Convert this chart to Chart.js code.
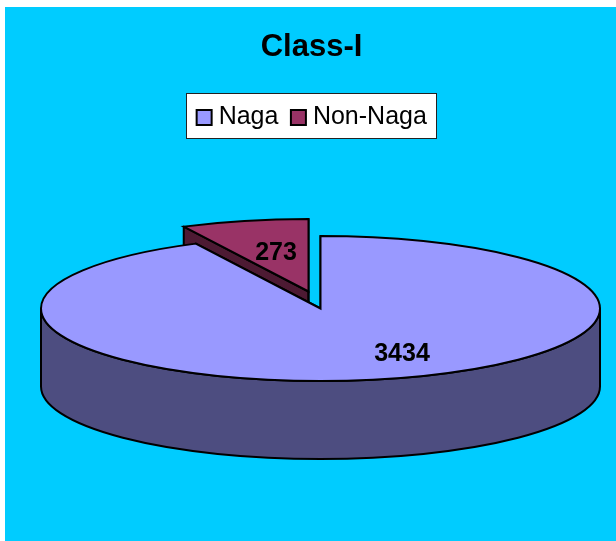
<!DOCTYPE html>
<html><head><meta charset="utf-8">
<style>html,body{margin:0;padding:0;background:#fff}#w{width:616px;height:541px;position:relative}</style>
<script src="https://cdn.jsdelivr.net/npm/chart.js@4/dist/chart.umd.js"></script>
</head><body><div id="w"><canvas id="c" width="616" height="541"></canvas></div>
<script>
const titleText = 'Class-I';
const categories = ['Naga', 'Non-Naga'];
const values = [3434, 273];
const topColors = ['#9999FF', '#993366'];
const sideColors = ['#4D4D80', '#4D1A33'];

const view = {
  bg: {x: 5, y: 7, color: '#00CCFF'},
  cx: 320.5, cy: 308.5, rx: 279.5, ry: 72.5, depth: 78,
  explode: [{x: 0, y: 0}, {x: -12, y: -17}],
  labels: [{x: 402, y: 354}, {x: 276, y: 253}],
  legendPad: 10,
  legendH: 45,
  legendRightTrim: 1
};
const FONT = '"Liberation Sans", Arial, sans-serif';

function mapPt(a, ang, r, i) {
  return {
    x: view.cx + view.explode[i].x + Math.cos(ang) * r * view.rx / a.outerRadius,
    y: view.cy + view.explode[i].y + Math.sin(ang) * r * view.ry / a.outerRadius
  };
}
function ellipse(ctx, i, from, to, dy, ccw) {
  ctx.ellipse(view.cx + view.explode[i].x, view.cy + view.explode[i].y + dy, view.rx, view.ry, 0, from, to, !!ccw);
}
function drawSide(ctx, a, i) {
  const apex = {x: view.cx + view.explode[i].x, y: view.cy + view.explode[i].y};
  ctx.fillStyle = sideColors[i];
  ctx.strokeStyle = '#000';
  ctx.lineWidth = 2;
  ctx.lineJoin = 'round';
  [a.startAngle, a.endAngle].forEach(ang => {
    const p = mapPt(a, ang, a.outerRadius, i);
    ctx.beginPath();
    ctx.moveTo(apex.x, apex.y);
    ctx.lineTo(p.x, p.y);
    ctx.lineTo(p.x, p.y + view.depth);
    ctx.lineTo(apex.x, apex.y + view.depth);
    ctx.closePath();
    ctx.fill(); ctx.stroke();
  });
  const norm = v => ((v % (2 * Math.PI)) + 2 * Math.PI) % (2 * Math.PI);
  const s = norm(a.startAngle), e = s + (a.endAngle - a.startAngle);
  for (const [lo, hi] of [[0, Math.PI], [2 * Math.PI, 3 * Math.PI]]) {
    const f = Math.max(s, lo), t = Math.min(e, hi);
    if (t > f) {
      ctx.beginPath();
      ellipse(ctx, i, f, t, 0);
      ellipse(ctx, i, t, f, view.depth, true);
      ctx.closePath();
      ctx.fill(); ctx.stroke();
    }
  }
}
function drawTop(chart, ctx, a, i) {
  ctx.save();
  ctx.translate(view.cx + view.explode[i].x, view.cy + view.explode[i].y);
  ctx.scale(view.rx / a.outerRadius, view.ry / a.outerRadius);
  ctx.translate(-a.x, -a.y);
  a.draw(ctx);
  ctx.restore();
  const apex = {x: view.cx + view.explode[i].x, y: view.cy + view.explode[i].y};
  ctx.strokeStyle = '#000';
  ctx.lineWidth = 2;
  ctx.lineJoin = 'miter';
  ctx.beginPath();
  ctx.moveTo(apex.x, apex.y);
  ellipse(ctx, i, a.startAngle, a.endAngle, 0);
  ctx.closePath();
  ctx.stroke();
}
const piePlugin = {
  id: 'pie3d',
  beforeDraw(chart) {
    const ctx = chart.ctx;
    ctx.save();
    ctx.fillStyle = view.bg.color;
    ctx.fillRect(view.bg.x, view.bg.y, chart.width - view.bg.x, chart.height - view.bg.y);
    const l = chart.legend, boxes = l.legendHitBoxes, last = boxes[boxes.length - 1];
    const x0 = Math.round(boxes[0].left - view.legendPad);
    const x1 = Math.round(last.left + last.width + view.legendPad) - view.legendRightTrim;
    ctx.fillStyle = '#fff';
    ctx.fillRect(x0 + .5, l.top + .5, x1 - x0, view.legendH);
    ctx.strokeStyle = '#222';
    ctx.lineWidth = 1;
    ctx.strokeRect(x0 + .5, l.top + .5, x1 - x0, view.legendH);
    ctx.restore();
  },
  beforeDatasetsDraw(chart) {
    const ctx = chart.ctx;
    const arcs = chart.getDatasetMeta(0).data;
    ctx.save();
    drawSide(ctx, arcs[1], 1);
    drawTop(chart, ctx, arcs[1], 1);
    drawSide(ctx, arcs[0], 0);
    drawTop(chart, ctx, arcs[0], 0);
    ctx.fillStyle = '#000';
    ctx.font = 'bold 25px ' + FONT;
    ctx.textAlign = 'center';
    ctx.textBaseline = 'middle';
    values.forEach((v, i) => ctx.fillText(String(v), view.labels[i].x, view.labels[i].y));
    ctx.restore();
    return false;
  },
  afterDraw(chart) {
    const ctx = chart.ctx, boxes = chart.legend.legendHitBoxes;
    ctx.save();
    boxes.forEach((b, i) => {
      const y = b.top + b.height / 2 - 7.5;
      ctx.fillStyle = topColors[i];
      ctx.strokeStyle = '#000';
      ctx.lineWidth = 2;
      ctx.fillRect(b.left + .5, y, 15, 15);
      ctx.strokeRect(b.left + .5, y, 15, 15);
    });
    ctx.restore();
  }
};

new Chart(document.getElementById('c'), {
  type: 'pie',
  data: {labels: categories, datasets: [{data: values, backgroundColor: topColors, borderWidth: 0}]},
  options: {
    responsive: false,
    animation: false,
    rotation: 0,
    layout: {padding: {left: 7, right: 0, top: 0, bottom: 0}},
    plugins: {
      tooltip: {enabled: false},
      title: {display: true, text: titleText, color: '#000',
        font: {family: FONT, size: 31, weight: 'bold', lineHeight: 1},
        padding: {top: 32, bottom: 30}},
      legend: {position: 'top',
        labels: {
          color: '#000', font: {family: FONT, size: 25, lineHeight: 1},
          boxWidth: 10, boxHeight: 15, padding: 12,
          generateLabels(chart) {
            return categories.map((t, i) => ({text: t, fillStyle: 'rgba(0,0,0,0)', strokeStyle: 'rgba(0,0,0,0)', lineWidth: 0, index: i}));
          }
        }
      }
    }
  },
  plugins: [piePlugin]
});
</script></body></html>
